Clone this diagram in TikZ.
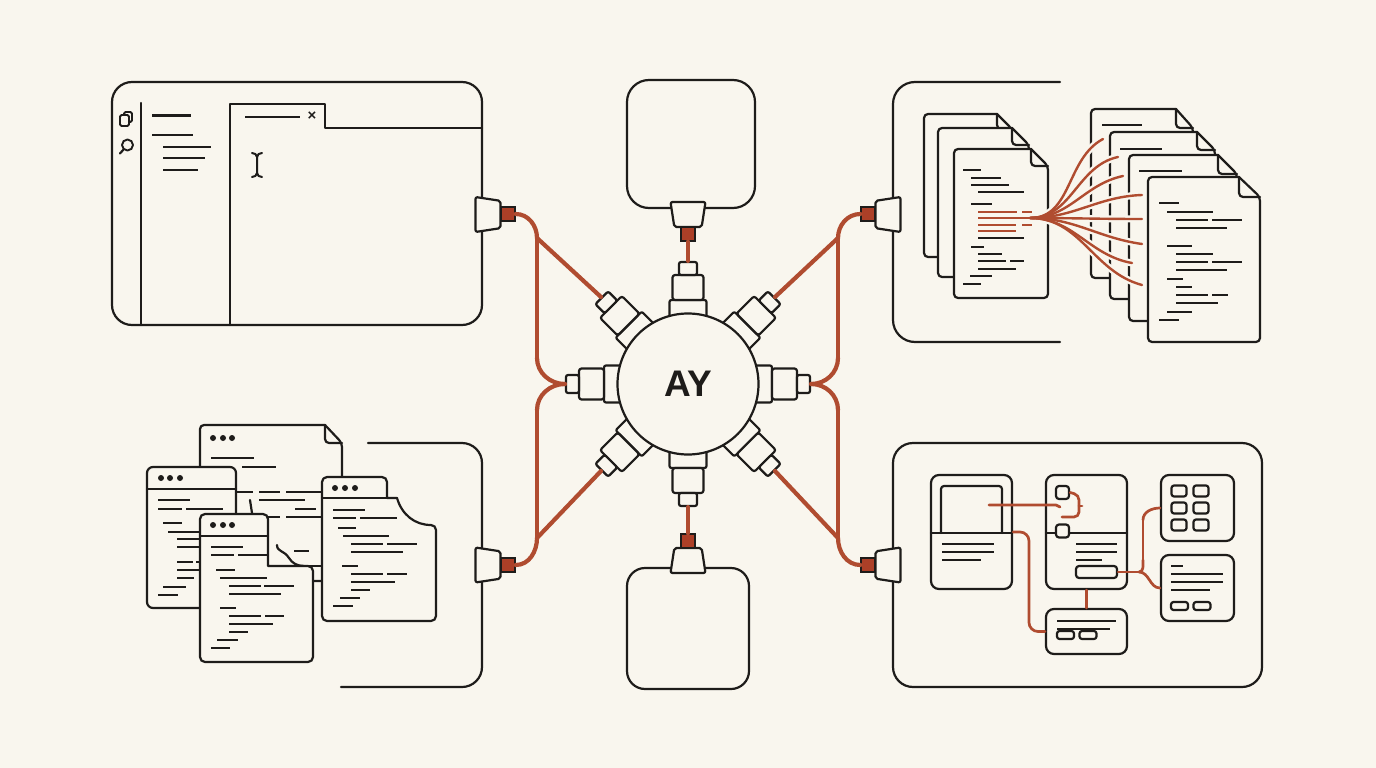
\documentclass[tikz,border=0pt]{standalone}
\usepackage{fontspec}
\setmainfont{Liberation Sans}
\usetikzlibrary{calc,positioning,shapes.geometric}
\definecolor{paper}{HTML}{F9F6EE}
\definecolor{ink}{HTML}{1E1C1A}
\definecolor{rust}{HTML}{B04C30}
\definecolor{rustdark}{HTML}{AC3F27}
\tikzset{
	x=1pt,
	y=-1pt,
	sheet/.style={draw=ink, line width=2.2pt, fill=paper, line join=round},
	stroke/.style={draw=ink, line width=2.2pt, line cap=round, line join=round},
	txt/.style={draw=ink, line width=2.1pt},
	panel/.style={sheet, rectangle, rounded corners=#1, inner sep=0pt},
	panel/.default=20pt,
	collar/.style={sheet, rectangle, rounded corners=2pt, inner sep=0pt, minimum width=24pt, minimum height=37pt},
	barrel/.style={sheet, rectangle, rounded corners=2.5pt, inner sep=0pt, minimum width=25pt, minimum height=31pt},
	tipcap/.style={sheet, rectangle, rounded corners=2pt, inner sep=0pt, minimum width=13pt, minimum height=18pt},
	socket/.style={sheet, trapezium, trapezium angle=82, trapezium stretches=true, rounded corners=2pt, inner sep=2pt, minimum width=35pt, minimum height=25pt},
	plug/.style={draw=ink, line width=1.5pt, fill=rustdark, rectangle, inner sep=0pt, minimum width=14pt, minimum height=14pt},
	wire/.style={draw=rust, line width=4.2pt, line cap=round, line join=round},
	thinwire/.style={draw=rust, line width=2.7pt, line cap=round, line join=round},
	fanline/.style={draw=rust, line width=2.4pt, line cap=round},
	fanhalo/.style={draw=paper, line width=7pt},
	dot/.style={circle, fill=ink, inner sep=0pt, minimum size=6pt},
}
\newcommand{\txtrows}[1]{\foreach \xa/\xb/\yy in {#1} {\draw[txt] (\xa,\yy) -- (\xb,\yy);}}
\newcommand{\redrows}[1]{\foreach \xa/\xb/\yy in {#1} {\draw[thinwire, line cap=butt] (\xa,\yy) -- (\xb,\yy);}}
\newcommand{\foldpage}[6]{
	\draw[sheet, rounded corners=4pt] (#5,#2) -- (#1,#2) -- (#1,#4) -- (#3,#4) -- (#3,#6) [sharp corners] -- (#5,#2) -- cycle;
	\draw[stroke] (#5,#2) [rounded corners=4pt] -- (#5,#6) -- (#3,#6);
}
\begin{document}
\begin{tikzpicture}
	\useasboundingbox (0,0) rectangle (1376,768);
	\fill[paper] (0,0) rectangle (1376,768);

	\node[panel, minimum width=370pt, minimum height=243pt] (editor) at (297,203.5) {};
	\draw[stroke] (141,103) -- (141,325);
	\draw[stroke] (230,325) -- (230,104) -- (325,104) -- (325,128) -- (482,128);
	\draw[stroke, rounded corners=1.5pt, line width=1.8pt] (124,116) -- (124,112) -- (132,112) -- (132,122) -- (129,122);
	\draw[sheet, rounded corners=1.5pt, line width=1.8pt] (120,115) rectangle (129,126);
	\node[circle, sheet, line width=1.9pt, inner sep=0pt, minimum size=11pt] (lens) at (127.5,145) {};
	\coordinate (lensgrip) at (120,153.5);
	\draw[stroke] (lens) -- (lensgrip);
	\txtrows{152/191/115.5,152/193/135,163/211/147,163/205/158,163/198/170,245/300/117}
	\node[ink, font=\bfseries\fontsize{15}{15}\selectfont, inner sep=0pt] (closemark) at (312,116.5) {×};
	\draw[stroke, line width=2pt] (252,153) to[out=0,in=90] (257,157) -- (257,173) to[out=-90,in=0] (252,177);
	\draw[stroke, line width=2pt] (262,153) to[out=180,in=90] (257,157) (257,173) to[out=-90,in=180] (262,177);

	\node[panel=22pt, minimum width=128pt, minimum height=128pt] (topbox) at (691,144) {};
	\node[panel=18pt, minimum width=122pt, minimum height=121pt] (bottombox) at (688,628.5) {};

	\draw[stroke, rounded corners=22pt] (1060,82) -- (893,82) -- (893,342) -- (1060,342);
	\foldpage{924}{114}{1012}{257}{997}{129}
	\foldpage{938}{128}{1029}{277}{1012}{145}
	\foldpage{954}{149}{1048}{298}{1031}{166}
	\txtrows{963/981/170,971/1001/178,971/1009/185,978/1024/192,971/992/204,978/1024/238,971/984/247,978/1002/254,978/1006/261,1010/1024/261,978/1016/269,970/992/276,963/981/284}
	\foldpage{1091}{109}{1193}{278}{1176}{128}
	\txtrows{1102/1142/125}
	\foldpage{1110}{132}{1215}{299}{1197}{150}
	\txtrows{1120/1162/149}
	\foldpage{1129}{155}{1237}{321}{1218}{174}
	\txtrows{1139/1182/171}
	\coordinate (fanhub) at (1030,218);
	\coordinate (fana) at (1103,139);
	\coordinate (fanb) at (1118,157);
	\coordinate (fanc) at (1123,176);
	\coordinate (fand) at (1142,195);
	\coordinate (fane) at (1142,219);
	\coordinate (fanf) at (1142,244);
	\coordinate (fang) at (1132,263);
	\coordinate (fanh) at (1142,285);
	\foreach \nm/\ang in {fana/208,fanb/192,fanc/192,fand/182,fane/180,fanf/172,fang/170,fanh/165}{
		\draw[fanhalo] (fanhub) edge[out=0, in=\ang] (\nm);
	}
	\foldpage{1148}{177}{1260}{342}{1239}{197}
	\txtrows{1159/1179/203,1167/1213/212,1176/1208/220,1212/1242/220,1176/1227/228,1167/1192/246,1176/1213/254,1176/1208/262,1212/1242/262,1176/1227/270,1167/1183/279,1176/1192/287,1176/1208/295,1212/1228/295,1176/1218/303,1167/1192/312,1159/1179/320}
	\foreach \nm/\ang in {fana/208,fanb/192,fanc/192,fand/182,fane/180,fanf/172,fang/170,fanh/165}{
		\draw[fanline] (fanhub) edge[out=0, in=\ang] (\nm);
	}
	\redrows{978/1017/212,978/1030/218,978/1016/225,978/1016/231,1022/1032/212,1022/1032/225}

	\draw[stroke, rounded corners=20pt] (368,443) -- (482,443) -- (482,687) -- (341,687);
	\foldpage{200}{425}{342}{581}{325}{443}
	\node[dot] (dotaa) at (213,438) {};
	\node[dot] (dotab) at (223,438) {};
	\node[dot] (dotac) at (232,438) {};
	\txtrows{211/254/458,242/276/467,236/253/492,259/280/492,286/322/492,259/305/500,295/316/509,268/280/517,286/322/517,294/309/551}
	\node[panel=6pt, minimum width=89pt, minimum height=141pt] (winb) at (191.5,537.5) {};
	\draw[stroke] (147,489) -- (236,489);
	\node[dot] (dotba) at (161,478) {};
	\node[dot] (dotbb) at (170,478) {};
	\node[dot] (dotbc) at (180,478) {};
	\txtrows{158/190/500,158/182/509,186/223/509,163/182/523,168/200/532,177/200/539,177/200/547,177/193/562,196/200/562,177/200/570,177/194/578,163/186/587,158/178/595}
	\draw[stroke] (250,500) -- (252,513);
	\draw[stroke] (277,545) .. controls (277,552) and (284,550) .. (289,558) .. controls (292,563) and (297,566) .. (304,566);
	\draw[stroke] (268,566) -- (322,566);
	\draw[sheet, rounded corners=5pt] (268,566) -- (268,514) -- (200,514) -- (200,662) -- (313,662) -- (313,566) [sharp corners] -- (268,566) -- cycle;
	\draw[stroke] (200,536) -- (268,536);
	\node[dot] (dotca) at (213,525) {};
	\node[dot] (dotcb) at (223,525) {};
	\node[dot] (dotcc) at (232,525) {};
	\txtrows{211/243/547,211/234/555,238/268/555,216/235/570,220/267/578,229/261/586,264/294/586,229/281/594,220/236/608,229/261/616,265/284/616,229/273/624,229/248/632,217/238/640,211/230/648}
	\draw[sheet, rounded corners=5pt] (387,498) -- (387,477) -- (322,477) -- (322,621) -- (436,621) -- (436,525) [sharp corners] .. controls (415,525) and (402,515) .. (397,498) -- cycle;
	\draw[stroke] (322,498) -- (397,498);
	\node[dot] (dotda) at (335,488) {};
	\node[dot] (dotdb) at (345,488) {};
	\node[dot] (dotdc) at (355,488) {};
	\txtrows{333/365/510,333/356/518,360/397/518,338/356/528,343/389/536,351/383/544,387/417/544,351/403/552,342/358/566,351/383/574,387/407/574,351/395/582,351/370/590,340/360/598,333/353/606}

	\node[panel=20pt, minimum width=369pt, minimum height=244pt] (cards) at (1077.5,565) {};
	\node[panel=8pt, minimum width=81pt, minimum height=114pt] (carda) at (971.5,532) {};
	\draw[stroke] (931,533) -- (1012,533);
	\draw[stroke, rounded corners=3pt] (941,533) -- (941,486) -- (1002,486) -- (1002,533);
	\txtrows{942/994/544,942/994/552,942/981/560}
	\node[panel=8pt, minimum width=81pt, minimum height=114pt] (cardb) at (1086.5,532) {};
	\draw[stroke] (1046,533) -- (1127,533);
	\txtrows{1076/1117/544,1076/1117/552,1076/1102/560}
	\node[panel=3pt, minimum width=13pt, minimum height=13pt] (nubtop) at (1062.5,492.5) {};
	\node[panel=3pt, minimum width=13pt, minimum height=13pt] (nubbot) at (1062.5,531) {};
	\node[panel=3pt, minimum width=41pt, minimum height=12pt] (cardbtn) at (1096.5,572) {};
	\node[panel=8pt, minimum width=73pt, minimum height=66pt] (cardc) at (1197.5,508) {};
	\foreach \cx in {1179,1201}{
		\foreach \cy in {491,508,525}{
			\node[panel=2.5pt, minimum width=15pt, minimum height=11pt] (cell\cx\cy) at (\cx,\cy) {};
		}
	}
	\node[panel=8pt, minimum width=73pt, minimum height=66pt] (cardd) at (1197.5,588) {};
	\txtrows{1171/1183/566,1171/1223/574,1171/1223/582,1171/1210/590}
	\node[panel=2.5pt, minimum width=17pt, minimum height=8pt] (btnda) at (1179.5,606) {};
	\node[panel=2.5pt, minimum width=17pt, minimum height=8pt] (btndb) at (1202,606) {};
	\node[panel=8pt, minimum width=81pt, minimum height=45pt] (carde) at (1086.5,631.5) {};
	\txtrows{1057/1116/621,1057/1110/629}
	\node[panel=2.5pt, minimum width=17pt, minimum height=8pt] (btnea) at (1065.5,635) {};
	\node[panel=2.5pt, minimum width=17pt, minimum height=8pt] (btneb) at (1088,635) {};

	\coordinate (hookin) at (989,505);
	\coordinate (hookend) at (1060,507);
	\coordinate (bracea) at (1079,506);
	\coordinate (braceend) at (1062,517);
	\coordinate (bracetip) at (1082,506);
	\coordinate (junc) at (1139,572);
	\coordinate (riseup) at (1143,560);
	\coordinate (risetop) at (1143,520);
	\draw[thinwire] (hookin) -- (1056,505) -- (hookend);
	\draw[thinwire, rounded corners=5pt] (nubtop.east) -- (1079,495) -- (1079,517) -- (braceend);
	\draw[thinwire] (bracea) -- (bracetip);
	\draw[thinwire, rounded corners=9pt] (carda.east) -| (1029,582) |- (carde.west);
	\draw[thinwire] (cardb.south) -- (carde.north);
	\draw[thinwire] (cardbtn.east) -- (junc);
	\draw[thinwire] (junc) edge[out=0, in=-90] (riseup) (riseup) edge (risetop) (risetop) edge[out=90, in=180] (cardc.west);
	\draw[thinwire] (junc) edge[out=0, in=180] (cardd.west);

	\coordinate (hubpos) at (688,384);
	\foreach \nm/\ang in {E/0,NE/45,N/90,NW/135,W/180,SW/225,S/270,SE/315}{
		\node[collar, rotate=\ang] (collar\nm) at ($(hubpos)+(\ang:72pt)$) {};
		\node[barrel, rotate=\ang] (barrel\nm) at ($(hubpos)+(\ang:96.5pt)$) {};
		\node[tipcap, rotate=\ang] (tip\nm) at ($(hubpos)+(\ang:115.5pt)$) {};
	}
	\node[sheet, circle, inner sep=0pt, minimum size=141pt, font=\bfseries\fontsize{37}{37}\selectfont, text=ink] (hub) at (hubpos) {AY};

	\node[socket, rotate=-90] (sockEditor) at (488,214.5) {};
	\node[plug] (plugEditor) at (508,214) {};
	\node[socket, rotate=90] (sockFiles) at (888,214.5) {};
	\node[plug] (plugFiles) at (868,214) {};
	\node[socket, rotate=-90] (sockPages) at (488,565) {};
	\node[plug] (plugPages) at (508,565) {};
	\node[socket, rotate=90] (sockCards) at (888,565) {};
	\node[plug] (plugCards) at (868,565) {};
	\node[socket, rotate=180] (sockTop) at (688,214.5) {};
	\node[plug] (plugTop) at (688,234) {};
	\node[socket] (sockBottom) at (688,560.5) {};
	\node[plug] (plugBottom) at (688,541) {};

	\coordinate (busAa) at (537,238);
	\coordinate (busAb) at (537,358);
	\coordinate (busCa) at (537,410);
	\coordinate (busCb) at (537,538);
	\coordinate (busBa) at (838,238);
	\coordinate (busBb) at (838,358);
	\coordinate (busDa) at (838,410);
	\coordinate (busDb) at (838,538);

	\draw[wire] (plugEditor.east) edge[out=0, in=90] (busAa)
	(busAa) edge (busAb)
	(busAb) edge[out=-90, in=180] (tipW.east)
	(busAa) edge (tipNW.east)
	(tipW.east) edge[out=180, in=90] (busCa)
	(busCa) edge (busCb)
	(busCb) edge[out=-90, in=0] (plugPages.east)
	(busCb) edge (tipSW.east)
	(plugFiles.west) edge[out=180, in=90] (busBa)
	(busBa) edge (busBb)
	(busBb) edge[out=-90, in=0] (tipE.east)
	(busBa) edge (tipNE.east)
	(tipE.east) edge[out=0, in=90] (busDa)
	(busDa) edge (busDb)
	(busDb) edge[out=-90, in=180] (plugCards.west)
	(busDb) edge (tipSE.east)
	(plugTop.south) edge (tipN.east)
	(plugBottom.north) edge (tipS.east);
\end{tikzpicture}
\end{document}
